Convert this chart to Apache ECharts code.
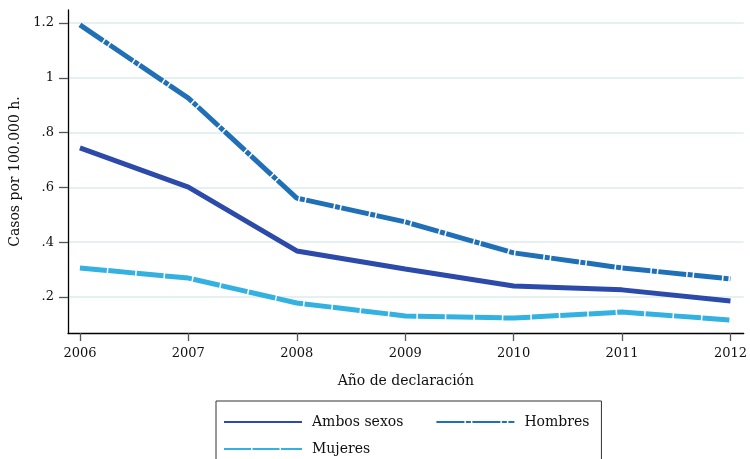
<!DOCTYPE html>
<html>
<head>
<meta charset="utf-8">
<script src="https://cdn.jsdelivr.net/npm/echarts@6/dist/echarts.min.js"></script>
<style>html,body{margin:0;padding:0;background:#fff}#c{width:750px;height:459px}</style>
</head>
<body>
<div id="c"></div>
<script>
const years = [2006, 2007, 2008, 2009, 2010, 2011, 2012];
const ambos = [0.744, 0.601, 0.368, 0.302, 0.240, 0.226, 0.185];
const hombres = [1.193, 0.926, 0.561, 0.474, 0.361, 0.306, 0.266];
const mujeres = [0.306, 0.269, 0.178, 0.131, 0.123, 0.145, 0.116];
const yTicks = [0.2, 0.4, 0.6, 0.8, 1.0, 1.2];

const FONT = 'DejaVu Serif';
const pairs = arr => years.map((y, i) => [y, arr[i]]);

const chart = echarts.init(document.getElementById('c'), null, {renderer: 'canvas'});
chart.setOption({
  animation: false,
  backgroundColor: '#fff',
  grid: {left: 68, right: 2, top: 10, bottom: 126},
  xAxis: {
    type: 'value', min: 2005.89, max: 2012.122,
    name: 'Año de declaración', nameLocation: 'middle', nameGap: 41,
    nameTextStyle: {fontFamily: FONT, fontSize: 14, color: '#111'},
    axisLine: {show: true, lineStyle: {color: '#000', width: 1.3}},
    axisTick: {show: true, length: 8, lineStyle: {color: '#555', width: 1.3}, customValues: years},
    axisLabel: {customValues: years, fontFamily: FONT, fontSize: 13, color: '#111', margin: 14, formatter: v => String(v)},
    splitLine: {show: false}
  },
  yAxis: {
    type: 'value', min: 0.0686, max: 1.2474,
    name: 'Casos por 100.000 h.', nameLocation: 'middle', nameGap: 44,
    nameTextStyle: {fontFamily: FONT, fontSize: 14, color: '#111'},
    axisLine: {show: true, lineStyle: {color: '#000', width: 1.3}},
    axisTick: {show: true, length: 9, lineStyle: {color: '#555', width: 1.3}, customValues: yTicks},
    axisLabel: {customValues: yTicks, fontFamily: FONT, fontSize: 13, color: '#111', margin: 14,
      padding: [4, 0, 0, 0],
      formatter: v => { let s = (Math.round(v * 10) / 10).toString(); return s.replace(/^0\./, '.'); }},
    splitLine: {show: true, lineStyle: {color: '#dcebeb', width: 1.6}}
  },
  legend: {
    left: 216, top: 401, orient: 'horizontal', width: 400,
    padding: [12, 12, 12, 7],
    itemGap: 9, itemWidth: 78, itemHeight: 5,
    borderColor: '#333', borderWidth: 1,
    itemStyle: {opacity: 0},
    textStyle: {fontFamily: FONT, fontSize: 14, color: '#111', lineHeight: 18,
      rich: {
        a: {fontFamily: FONT, fontSize: 14, color: '#111', lineHeight: 18, padding: [0, 23, 0, 5]},
        b: {fontFamily: FONT, fontSize: 14, color: '#111', lineHeight: 18, padding: [0, 0, 0, 5]}
      }},
    formatter: n => n === 'Ambos sexos' ? '{a|' + n + '}' : '{b|' + n + '}',
    data: ['Ambos sexos', 'Hombres', 'Mujeres']
  },
  series: [
    {name: 'Ambos sexos', type: 'line', data: pairs(ambos), symbol: 'none',
     lineStyle: {color: '#2b4aa9', width: 5}, itemStyle: {color: '#2b4aa9'}},
    {name: 'Hombres', type: 'line', data: pairs(hombres), symbol: 'none',
     lineStyle: {color: '#1f70b6', width: 5, type: [28, 1.5, 5, 1.5]}, itemStyle: {color: '#1f70b6'}},
    {name: 'Mujeres', type: 'line', data: pairs(mujeres), symbol: 'none',
     lineStyle: {color: '#33b1e1', width: 5, type: [27, 1.5]}, itemStyle: {color: '#33b1e1'}}
  ]
});
</script>
</body>
</html>
